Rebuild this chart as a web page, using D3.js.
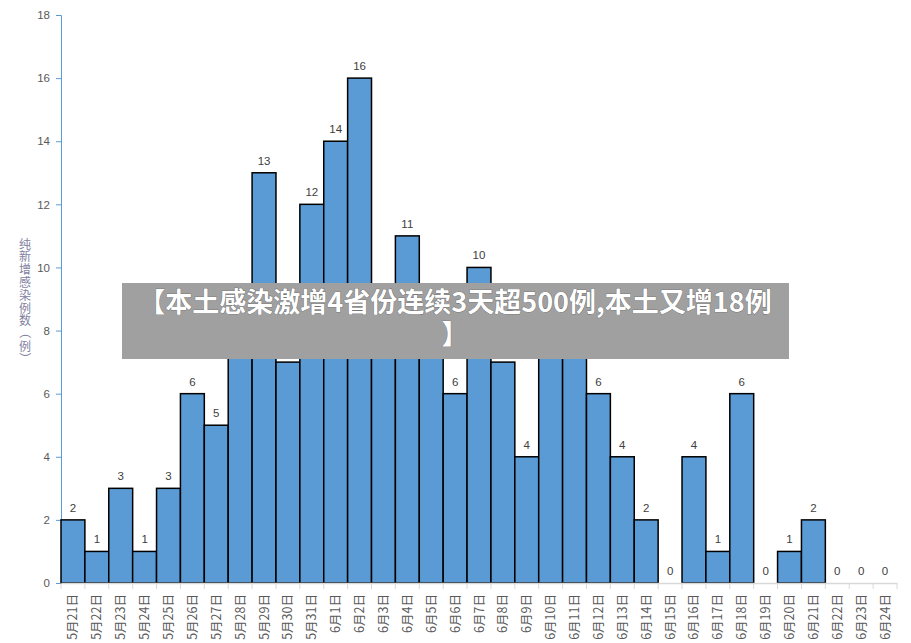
<!DOCTYPE html>
<html><head><meta charset="utf-8">
<script src="https://cdn.jsdelivr.net/npm/d3@7"></script>
<style>
html,body{margin:0;padding:0;background:#fff;}
svg{display:block;}
</style></head>
<body>
<svg id="chart" width="911" height="643"></svg>
<script>
const categories = ["5月21日","5月22日","5月23日","5月24日","5月25日","5月26日","5月27日","5月28日","5月29日","5月30日","5月31日",
"6月1日","6月2日","6月3日","6月4日","6月5日","6月6日","6月7日","6月8日","6月9日","6月10日","6月11日","6月12日","6月13日","6月14日",
"6月15日","6月16日","6月17日","6月18日","6月19日","6月20日","6月21日","6月22日","6月23日","6月24日"];
const values = [2,1,3,1,3,6,5,9,13,7,12,14,16,8,11,9,6,10,7,4,9,8,6,4,2,0,4,1,6,0,1,2,0,0,0];
const yTicks = [0,2,4,6,8,10,12,14,16,18];
const yTitle = "纯新增感染例数（例）";
const overlayLines = ["【本土感染激增4省份连续3天超500例,本土又增18例","】"];

(function () {
const svg = d3.select("#chart");
const mLeft = 61, mRight = 897, mTop = 15, mBottom = 583;
const x = d3.scaleBand().domain(categories).range([mLeft, mRight]).padding(0);
const y = d3.scaleLinear().domain([0, 18]).range([mBottom, mTop]);
const numFont = "'Liberation Sans', Arial, sans-serif";
const cjkFont = "'Noto Sans CJK SC', sans-serif";

// y axis
const yAxis = svg.append("g").attr("transform", `translate(${mLeft},0)`)
  .call(d3.axisLeft(y).tickValues(yTicks).tickSize(5).tickPadding(6));
yAxis.select(".domain").attr("stroke", "#5b9bd5");
yAxis.selectAll(".tick line").attr("stroke", "#5b9bd5");
yAxis.selectAll(".tick text").attr("fill", "#595959").style("font-family", numFont).style("font-size", "11.5px");

// bars
svg.append("g").selectAll("rect").data(values).join("rect")
  .attr("x", (d, i) => x(categories[i]))
  .attr("y", d => y(d))
  .attr("width", x.bandwidth())
  .attr("height", d => mBottom - y(d))
  .attr("fill", "#5b9bd5")
  .attr("stroke", d => d > 0 ? "#000" : "none")
  .attr("stroke-width", 1.5);

// x axis
const xAxis = svg.append("g").attr("transform", `translate(0,${mBottom})`)
  .call(d3.axisBottom(x).tickSize(0).tickFormat(""));
xAxis.select(".domain").attr("stroke", "#d9d9d9").attr("stroke-width", 1.5);
svg.append("g").selectAll("line").data(d3.range(categories.length + 1)).join("line")
  .attr("x1", i => mLeft + i * x.step()).attr("x2", i => mLeft + i * x.step())
  .attr("y1", mBottom).attr("y2", mBottom + 6)
  .attr("stroke", "#d9d9d9").attr("stroke-width", 1);
svg.append("g").selectAll("text").data(categories).join("text")
  .attr("transform", d => `translate(${x(d) + x.bandwidth() / 2 + 4.5},${mBottom + 11}) rotate(-90)`)
  .attr("text-anchor", "end")
  .attr("fill", "#595959")
  .style("font-family", cjkFont).style("font-size", "12.5px")
  .text(d => d);

// value labels
svg.append("g").selectAll("text").data(values).join("text")
  .attr("x", (d, i) => x(categories[i]) + x.bandwidth() / 2)
  .attr("y", d => y(d) - 8)
  .attr("text-anchor", "middle")
  .attr("fill", "#404040")
  .style("font-family", numFont).style("font-size", "11.5px")
  .text(d => d);

// y title (vertical stacked, one character per row)
const titleChars = Array.from(yTitle);
const tg = svg.append("g").attr("fill", "#7f7f9f")
  .style("font-family", cjkFont).style("font-size", "12px");
tg.selectAll("text").data(titleChars).join("text")
  .attr("text-anchor", "middle")
  .attr("dominant-baseline", "central")
  .attr("transform", (c, i) => {
    const cy = 243 + i * 12.8;
    return `translate(25,${cy})` + ((c === "（" || c === "）") ? " rotate(90)" : "");
  })
  .text(c => c);

// overlay banner
svg.append("rect").attr("x", 122).attr("y", 283).attr("width", 667).attr("height", 76).attr("fill", "#a0a0a0");
svg.append("g").selectAll("text").data(overlayLines).join("text")
  .attr("x", 455).attr("y", (d, i) => 312 + i * 32)
  .attr("text-anchor", "middle")
  .attr("fill", "#fff")
  .attr("stroke", "#555").attr("stroke-width", 0.6).attr("paint-order", "stroke")
  .style("font-family", cjkFont).style("font-size", "27px").style("font-weight", "bold")
  .text(d => d);
})();
</script>
</body></html>
